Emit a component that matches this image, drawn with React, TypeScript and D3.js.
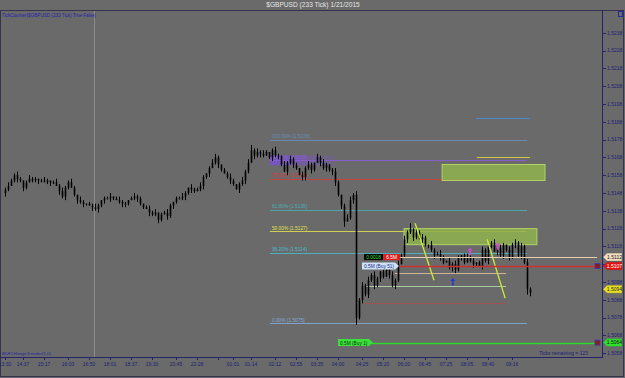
import React from 'react';
import * as d3 from 'd3';

const W = 625;
const H = 378;

const TITLE = '$GBPUSD (233 Tick)  1/21/2015';
const TOP_LEFT_TEXT = 'TickCounter($GBPUSD (233 Tick) True False)';
const BOTTOM_LEFT_TEXT = 'BLRCHangeTrender(1,0)';
const TICKS_REMAINING = 'Ticks remaining = 123';

// closes in pips above 1.5000 (1 pip = 0.0001)
const FIRST_OPEN_PIPS = 148;
const CLOSE_PIPS = [
  150, 152, 155, 158, 156, 155, 151, 154, 156, 155,
  156, 155, 155, 154, 155, 154, 154, 152, 149, 146,
  151, 154, 151, 147, 144, 143, 142, 142, 141, 140,
  139, 141, 144, 145, 145, 146, 145, 144, 143, 142,
  142, 144, 145, 146, 145, 142, 140, 139, 137, 136,
  137, 133, 136, 137, 135, 141, 143, 145, 145, 146,
  148, 151, 150, 149, 150, 152, 157, 159, 162, 165,
  168, 164, 161, 159, 157, 155, 153, 150, 153, 155,
  160, 165, 172, 169, 171, 170, 169, 171, 168, 172,
  169, 169, 164, 160, 165, 167, 164, 162, 158, 157,
  162, 164, 161, 165, 168, 165, 162, 164, 161, 160,
  154, 147, 141, 132, 134, 144, 147, 78, 88, 96,
  91, 99, 102, 96, 100, 104, 101, 105, 102, 96,
  99, 108, 113, 122, 126, 128, 123, 126, 122, 123,
  119, 119, 116, 113, 114, 112, 109, 110, 106, 108,
  105, 112, 113, 109, 112, 110, 108, 109, 107, 116,
  110, 118, 120, 115, 117, 113, 119, 116, 112, 119,
  120, 113, 118, 109, 94, 92,
];
const WICK_UP = [
  '1211210121', '1012101212', '1121021011', '2101120121', '1012110121',
  '2011210112', '1021121012', '2101121012', '1231212101', '2102121102',
  '1210212101', '2101221212', '1212101212', '1212130212', '1021121021',
  '2101212012', '1212021021', '212121',
].join('');
const WICK_DN = [
  '2101212101', '1210121021', '2101212102', '1212021012', '2101211021',
  '1210212101', '2121012120', '1210121021', '2102121012', '1210212102',
  '2121021212', '2123012412', '1212121021', '2101212102', '1212021012',
  '2121012102', '1210212121', '212132',
].join('');

const TIME_TICK_BARS = [0, 6, 13, 21, 28, 35, 42, 49, 57, 64, 71, 76, 82, 90, 97, 104, 111, 119, 126, 133, 140, 147, 154, 161, 169];
const TIME_TICK_LABELS = ['13:30', '14:37', '15:17', '16:03', '16:50', '18:01', '18:37', '19:30', '20:45', '22:28', '', '01:01', '01:14', '02:12', '02:55', '03:35', '04:00', '04:25', '05:20', '06:00', '06:45', '07:25', '08:05', '08:40', '09:16'];

const PRICE_TICKS = [1.5058, 1.5068, 1.5078, 1.5088, 1.5098, 1.5108, 1.5118, 1.5128, 1.5138, 1.5148, 1.5158, 1.5168, 1.5178, 1.5188, 1.5198, 1.5208, 1.5218, 1.5228, 1.5238];

const SESSION_BREAK_BAR = 29.7;

// Fibonacci retracement
const FIB_LOW = 1.5075;
const FIB_HIGH = 1.5178;
const FIB_START_BAR = 88.3;
const FIB_END_BAR = 174;
const FIB_LEVELS = [0, 38.2, 50, 61.8, 78.6, 88.6, 100];
const FIB_COLORS = ['#86acd8', '#46bccc', '#e2e24a', '#46b2b2', '#d63c3c', '#8c5cdc', '#6c8cbc'];

const ZONE_FROM = [145.7, 133];
const ZONE_TO = [180, 177.3];
const ZONE_TOP = [1.5164, 1.5128];
const ZONE_BOTTOM = [1.5155, 1.5119];

const DIAG_B0 = [136.7, 160.7];
const DIAG_P0 = [1.5131, 1.5122];
const DIAG_B1 = [143, 166.7];
const DIAG_P1 = [1.5099, 1.5089];

const EXTRA_PRICES = [1.5190, 1.5168, 1.5103, 1.5096, 1.5086];
const EXTRA_FROM = [157, 157.3, 130, 120, 120];
const EXTRA_TO = [175, 175, 167, 167, 167];
const EXTRA_COLORS = ['#4a8ccc', '#cfc443', '#cdb594', '#a9c9a0', '#a05252'];

const ARROW_BARS = [155, 164.3, 149.3];
const ARROW_PRICES = [1.5115, 1.5118, 1.5098];
const ARROW_COLORS = ['#e048e0', '#e048e0', '#2436d8'];

const LEVEL_PRICES = [1.5112, 1.5107, 1.5064];
const LEVEL_START_BARS = [131.7, 131.7, 122.3];
const LEVEL_COLORS = ['#e6cfb2', '#cc3030', '#2ed82e'];
const LEVEL_WIDTHS = [1, 1.6, 1.4];

const TAG_PRICES = [1.5112, 1.5107, 1.5094, 1.5064];
const TAG_FILLS = ['#f2dcc0', '#e01414', '#e8e024', '#2ee02e'];
const TAG_TEXT = ['#222', '#fff', '#222', '#111'];

const FONT = '"Liberation Sans", Arial, sans-serif';
const BG = '#6a6a6a';
const NAVY = '#1e1e74';

export default function App() {
  const x = d3.scaleLinear().domain([0, 175]).range([5, 530]);
  const y = d3.scaleLinear().domain([1.5058, 1.5238]).range([353.3, 32.7]);

  const candles = CLOSE_PIPS.map((c, i) => {
    const close = 1.5 + c / 10000;
    const open = 1.5 + (i === 0 ? FIRST_OPEN_PIPS : CLOSE_PIPS[i - 1]) / 10000;
    const up = +(WICK_UP.charAt(i) || '1');
    const dn = +(WICK_DN.charAt(i) || '1');
    const high = Math.max(open, close) + up / 10000;
    const low = Math.min(open, close) - dn / 10000;
    return { i, open, close, high, low };
  });

  const fibs = FIB_LEVELS.map((lv, k) => {
    const price = FIB_LOW + (FIB_HIGH - FIB_LOW) * lv / 100;
    return { lv, price, color: FIB_COLORS[k], label: `${lv.toFixed(2)}% (${price.toFixed(4)})` };
  });

  const tagYs = TAG_PRICES.map((p) => y(p));
  const hiddenTick = (p: number) => tagYs.some((ty) => Math.abs(ty - y(p)) < 5);

  const px = (v: number) => Math.round(v) + 0.5;

  return (
    <svg width={W} height={H} style={{ position: 'absolute', left: 0, top: 0, display: 'block' }} fontFamily={FONT}>
      <defs>
        <clipPath id="plot">
          <rect x={1} y={11} width={601} height={346} />
        </clipPath>
        <linearGradient id="purpleBand" x1="0" x2="1" y1="0" y2="0">
          <stop offset="0" stopColor="#7a4ed8" stopOpacity="0.75" />
          <stop offset="1" stopColor="#7a4ed8" stopOpacity="0.15" />
        </linearGradient>
      </defs>
      <rect x={0} y={0} width={W} height={H} fill={BG} />
      <text x={313} y={7} fontSize={6.6} fill="#e6e6e6" textAnchor="middle">{TITLE}</text>

      {/* frame */}
      <rect x={0.5} y={10.5} width={623} height={366} fill="none" stroke="#34344e" />
      <rect x={618.5} y={11.5} width={4} height={5} fill="none" stroke="#2a2aa0" />

      <g clipPath="url(#plot)">
        {/* session break */}
        <line x1={px(x(SESSION_BREAK_BAR))} x2={px(x(SESSION_BREAK_BAR))} y1={11} y2={357} stroke="#8c8c8c" strokeWidth={1} />

        {/* fib */}
        <rect x={x(FIB_START_BAR)} y={y(fibs[5].price) - 5} width={x(110) - x(FIB_START_BAR)} height={10} fill="url(#purpleBand)" />
        {fibs.map((f, k) => (
          <g key={'fib' + k}>
            <line x1={x(FIB_START_BAR)} x2={x(FIB_END_BAR)} y1={px(y(f.price))} y2={px(y(f.price))} stroke={f.color} strokeWidth={1} opacity={0.85} />
            <text x={x(FIB_START_BAR) + 2} y={y(f.price) - 1.5} fontSize={4.8} fill={f.color}>{f.label}</text>
          </g>
        ))}

        {/* extra horizontal lines */}
        {EXTRA_PRICES.map((p, k) => (
          <line key={'ex' + k} x1={x(EXTRA_FROM[k])} x2={x(EXTRA_TO[k])} y1={px(y(p))} y2={px(y(p))} stroke={EXTRA_COLORS[k]} strokeWidth={1} />
        ))}

        {/* zones */}
        {ZONE_FROM.map((b, k) => (
          <rect key={'z' + k} x={x(b)} y={y(ZONE_TOP[k])} width={x(ZONE_TO[k]) - x(b)} height={y(ZONE_BOTTOM[k]) - y(ZONE_TOP[k])}
            fill="#8fb24c" fillOpacity={0.85} stroke="#b2d266" strokeWidth={1} />
        ))}

        {/* candles */}
        {candles.map((c) => {
          const cx = x(c.i);
          const y0 = y(Math.max(c.open, c.close));
          const y1 = y(Math.min(c.open, c.close));
          return (
            <g key={'c' + c.i}>
              <line x1={cx + 0.5} x2={cx + 0.5} y1={y(c.high)} y2={y(c.low)} stroke="#000" strokeWidth={1} />
              <rect x={cx - 0.3} y={y0} width={1.6} height={Math.max(1, y1 - y0)} fill="#000" />
            </g>
          );
        })}

        {/* diagonal lines */}
        {DIAG_B0.map((b, k) => (
          <line key={'d' + k} x1={x(b)} y1={y(DIAG_P0[k])} x2={x(DIAG_B1[k])} y2={y(DIAG_P1[k])} stroke="#ccf030" strokeWidth={1.3} />
        ))}

        {/* arrows */}
        {ARROW_BARS.map((b, k) => {
          const ax = x(b);
          const ay = y(ARROW_PRICES[k]);
          return (
            <g key={'a' + k} fill={ARROW_COLORS[k]}>
              <path d={`M${ax},${ay - 4} L${ax + 2.5},${ay - 1} L${ax - 2.5},${ay - 1} Z`} />
              <rect x={ax - 0.8} y={ay - 1} width={1.6} height={4.5} />
            </g>
          );
        })}

        {/* level lines */}
        {LEVEL_PRICES.map((p, k) => (
          <line key={'lv' + k} x1={x(LEVEL_START_BARS[k])} x2={597} y1={px(y(p))} y2={px(y(p))} stroke={LEVEL_COLORS[k]} strokeWidth={LEVEL_WIDTHS[k]} />
        ))}
        {[1, 2].map((k) => (
          <rect key={'mk' + k} x={595} y={y(LEVEL_PRICES[k]) - 2.5} width={5} height={5} fill="#8a1c1c" stroke="#3a3ab0" strokeWidth={0.8} />
        ))}

        {/* label boxes */}
        <rect x={x(119.7)} y={y(LEVEL_PRICES[0]) - 3} width={19} height={6} fill="#000" />
        <text x={x(119.7) + 9.5} y={y(LEVEL_PRICES[0]) + 2} fontSize={4.8} fill="#36e036" textAnchor="middle">0.0018</text>
        <rect x={x(119.7) + 19} y={y(LEVEL_PRICES[0]) - 3} width={17} height={6} fill="#e01e1e" />
        <text x={x(119.7) + 27.5} y={y(LEVEL_PRICES[0]) + 2} fontSize={4.8} fill="#fff" textAnchor="middle">6.5M</text>

        <path d={`M${x(119)},${y(LEVEL_PRICES[1]) - 3.5} L${x(119) + 33},${y(LEVEL_PRICES[1]) - 3.5} L${x(119) + 37},${y(LEVEL_PRICES[1])} L${x(119) + 33},${y(LEVEL_PRICES[1]) + 3.5} L${x(119)},${y(LEVEL_PRICES[1]) + 3.5} Z`} fill="#cfe2f6" />
        <text x={x(119) + 2} y={y(LEVEL_PRICES[1]) + 2} fontSize={4.8} fill="#1a2a8a">0.5M (Buy 51)</text>

        <path d={`M${x(111)},${y(LEVEL_PRICES[2]) - 3.5} L${x(111) + 31},${y(LEVEL_PRICES[2]) - 3.5} L${x(111) + 35},${y(LEVEL_PRICES[2])} L${x(111) + 31},${y(LEVEL_PRICES[2]) + 3.5} L${x(111)},${y(LEVEL_PRICES[2]) + 3.5} Z`} fill="#3ce03c" />
        <text x={x(111) + 2} y={y(LEVEL_PRICES[2]) + 2} fontSize={4.8} fill="#0a3a0a">0.5M (Buy 1)</text>
      </g>

      <text x={2} y={16.5} fontSize={4.6} fill="#2424a8">{TOP_LEFT_TEXT}</text>
      <text x={2} y={355} fontSize={4.4} fill="#2424a8">{BOTTOM_LEFT_TEXT}</text>
      <text x={588} y={355} fontSize={5} fill={NAVY} textAnchor="end">{TICKS_REMAINING}</text>

      {/* axes lines */}
      <line x1={602.5} x2={602.5} y1={10} y2={358} stroke="#24246a" />
      <line x1={0} x2={603} y1={357.5} y2={357.5} stroke="#24246a" />

      {/* x axis */}
      {TIME_TICK_BARS.map((b, k) => (
        <g key={'xt' + k}>
          <line x1={px(x(b))} x2={px(x(b))} y1={357} y2={360} stroke="#24246a" />
          <text x={x(b)} y={366} fontSize={5} fill={NAVY} textAnchor="middle">{TIME_TICK_LABELS[k]}</text>
        </g>
      ))}

      {/* y axis */}
      {PRICE_TICKS.map((p, k) => (
        <g key={'yt' + k}>
          <line x1={603} x2={606} y1={px(y(p))} y2={px(y(p))} stroke="#24246a" />
          {!hiddenTick(p) && (
            <text x={607} y={y(p) + 1.8} fontSize={5} fill={NAVY}>{p.toFixed(4)}</text>
          )}
        </g>
      ))}

      {/* price tags */}
      {TAG_PRICES.map((p, k) => {
        const yy = y(p);
        return (
          <g key={'tag' + k}>
            <path d={`M603,${yy} L607,${yy - 4} L622,${yy - 4} L622,${yy + 4} L607,${yy + 4} Z`} fill={TAG_FILLS[k]} stroke="#555" strokeWidth={0.4} />
            <text x={614.5} y={yy + 1.8} fontSize={5} fill={TAG_TEXT[k]} textAnchor="middle">{p.toFixed(4)}</text>
          </g>
        );
      })}
    </svg>
  );
}
